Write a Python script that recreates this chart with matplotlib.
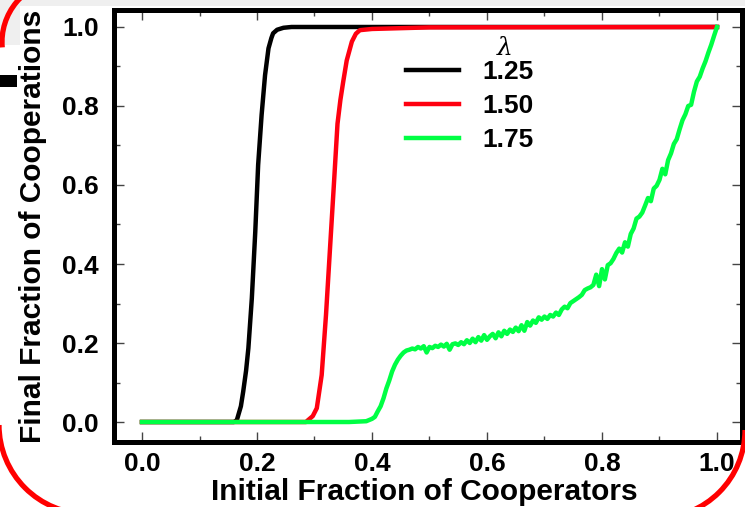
import matplotlib
matplotlib.use("Agg")
import matplotlib.pyplot as plt
from matplotlib.patches import Arc, Rectangle
from matplotlib.transforms import IdentityTransform
from matplotlib.ticker import MultipleLocator

plt.rcParams['font.family'] = ['Liberation Sans', 'DejaVu Sans']
plt.rcParams['font.weight'] = 'bold'

# ---- data ----
black_x = [0.0, 0.16, 0.165, 0.172, 0.176, 0.181, 0.185, 0.191, 0.197, 0.202,
           0.208, 0.214, 0.220, 0.225, 0.228, 0.235, 0.246, 0.26, 1.0]
black_y = [0.0, 0.0, 0.005, 0.04, 0.077, 0.13, 0.187, 0.313, 0.482, 0.651,
           0.777, 0.878, 0.946, 0.972, 0.984, 0.993, 0.998, 1.0, 1.0]

red_x = [0.0, 0.285, 0.289, 0.297, 0.304, 0.3125, 0.320, 0.327, 0.334, 0.340,
         0.345, 0.350, 0.356, 0.365, 0.372, 0.379, 0.40, 0.45, 0.50, 1.0]
red_y = [0.0, 0.0, 0.005, 0.015, 0.035, 0.119, 0.271, 0.44, 0.608, 0.755,
         0.815, 0.862, 0.915, 0.963, 0.983, 0.992, 0.995, 0.997, 0.999, 1.0]

green_x = [0.0, 0.36, 0.39, 0.400, 0.405, 0.410, 0.415, 0.420, 0.425, 0.430,
           0.435, 0.440, 0.445, 0.450, 0.455, 0.460, 0.465, 0.470, 0.475, 0.480,
           0.485, 0.490, 0.495, 0.500, 0.505, 0.510, 0.515, 0.520, 0.525, 0.530,
           0.535, 0.540, 0.545, 0.550, 0.555, 0.560, 0.565, 0.570, 0.575, 0.580,
           0.585, 0.590, 0.595, 0.600, 0.605, 0.610, 0.615, 0.620, 0.625, 0.630,
           0.635, 0.640, 0.645, 0.650, 0.655, 0.660, 0.665, 0.670, 0.675, 0.680,
           0.685, 0.690, 0.695, 0.700, 0.705, 0.710, 0.715, 0.720, 0.725, 0.730,
           0.735, 0.740, 0.745, 0.750, 0.755, 0.760, 0.765, 0.770, 0.775, 0.780,
           0.785, 0.790, 0.795, 0.800, 0.805, 0.810, 0.815, 0.820, 0.825, 0.830,
           0.835, 0.840, 0.845, 0.850, 0.855, 0.860, 0.865, 0.870, 0.875, 0.880,
           0.885, 0.890, 0.895, 0.900, 0.905, 0.910, 0.915, 0.920, 0.925, 0.930,
           0.935, 0.940, 0.945, 0.950, 0.955, 0.960, 0.965, 0.970, 0.975, 0.980,
           0.985, 0.990, 0.995, 1.000]
green_y = [0.0, 0.0, 0.002, 0.008, 0.013, 0.027, 0.040, 0.060, 0.085, 0.105,
           0.128, 0.145, 0.158, 0.168, 0.176, 0.181, 0.183, 0.186, 0.184, 0.190,
           0.186, 0.192, 0.176, 0.190, 0.187, 0.193, 0.190, 0.196, 0.191, 0.198,
           0.183, 0.197, 0.199, 0.195, 0.202, 0.197, 0.207, 0.200, 0.211, 0.202,
           0.215, 0.206, 0.220, 0.208, 0.217, 0.223, 0.212, 0.227, 0.217, 0.231,
           0.223, 0.234, 0.228, 0.239, 0.230, 0.245, 0.231, 0.253, 0.244, 0.257,
           0.251, 0.265, 0.259, 0.267, 0.261, 0.271, 0.267, 0.277, 0.271, 0.285,
           0.292, 0.288, 0.301, 0.306, 0.311, 0.316, 0.322, 0.334, 0.338, 0.341,
           0.347, 0.373, 0.344, 0.387, 0.361, 0.397, 0.402, 0.413, 0.428, 0.439,
           0.429, 0.455, 0.444, 0.476, 0.490, 0.515, 0.520, 0.530, 0.548, 0.567,
           0.559, 0.591, 0.598, 0.613, 0.641, 0.627, 0.663, 0.680, 0.704, 0.716,
           0.741, 0.764, 0.779, 0.800, 0.803, 0.836, 0.862, 0.874, 0.895, 0.913,
           0.935, 0.955, 0.978, 1.000]

labels = ['1.25', '1.50', '1.75']
colors = ['#000000', '#ff0010', '#00ff44']

xticks = [0.0, 0.2, 0.4, 0.6, 0.8, 1.0]
yticks = [0.0, 0.2, 0.4, 0.6, 0.8, 1.0]

# ---- figure ----
fig = plt.figure(figsize=(7.45, 5.07), dpi=100)
W, H = 745, 507

# decorations (screenshot frame)
fig.patches.append(Rectangle((0, 1 - 6 / H), 1, 6 / H, transform=fig.transFigure,
                             facecolor='#efefef', edgecolor='none', zorder=-2))
fig.patches.append(Rectangle((0, 1 - 45 / H), 20 / W, 45 / H, transform=fig.transFigure,
                             facecolor='#efefef', edgecolor='none', zorder=-2))
fig.patches.append(Rectangle((0, 1 - 87 / H), 17 / W, 12 / H, transform=fig.transFigure,
                             facecolor='#000000', edgecolor='none', zorder=2))
# red rounded frame corners (pixel coords, y up)
for (cx, cy, r, t1, t2) in [(64, H - 42, 62, 95, 185),
                            (88, H - 425, 89, 180, 270),
                            (657, H - 430, 88, 270, 360)]:
    fig.patches.append(Arc((cx, cy), 2 * r, 2 * r, theta1=t1, theta2=t2,
                           transform=IdentityTransform(), edgecolor='#ff0000',
                           linewidth=3.8, zorder=10))

ax = fig.add_axes([114 / W, 1 - 442 / H, 628 / W, 432 / H])
ax.set_zorder(3)

for xs, ys, lab, c in zip([black_x, red_x, green_x], [black_y, red_y, green_y], labels, colors):
    ax.plot(xs, ys, color=c, lw=3.2, label=lab, solid_joinstyle='round')

ax.set_xlim(-0.0487, 1.0435)
ax.set_ylim(-0.0506, 1.043)
ax.set_xticks(xticks)
ax.set_yticks(yticks)
ax.set_xticklabels([f"{v:.1f}" for v in xticks])
ax.set_yticklabels([f"{v:.1f}" for v in yticks])
ax.xaxis.set_minor_locator(MultipleLocator(0.1))
ax.yaxis.set_minor_locator(MultipleLocator(0.1))
ax.tick_params(which='both', direction='in', top=True, right=True,
               color='#444444', width=1)
ax.tick_params(which='major', length=7, labelsize=19)
ax.tick_params(which='minor', length=4)
ax.tick_params(axis='x', pad=7)
ax.tick_params(axis='y', pad=11)
for lbl in ax.get_xticklabels() + ax.get_yticklabels():
    lbl.set_fontweight('bold')
for sp in ax.spines.values():
    sp.set_linewidth(3.6)

ax.set_xlabel('Initial Fraction of Cooperators', fontsize=21.5, fontweight='bold')
ax.set_ylabel('Final Fraction of Cooperations', fontsize=21.5, fontweight='bold')
ax.xaxis.set_label_coords(0.494, -0.083)
ax.yaxis.set_label_coords(-0.107, 0.5)

leg = ax.legend(loc='upper left', bbox_to_anchor=(0.465, 0.884), frameon=False,
                fontsize=19, handlelength=2.0, handletextpad=0.9,
                labelspacing=0.38, borderpad=0, borderaxespad=0)
for t in leg.get_texts():
    t.set_fontweight('bold')
ax.text(0.623, 0.912, 'λ', transform=ax.transAxes, fontsize=18,
        ha='center', va='center', fontweight='normal', fontstyle='italic',
        family=['DejaVu Serif'])

fig.savefig('out.png', dpi=100)
